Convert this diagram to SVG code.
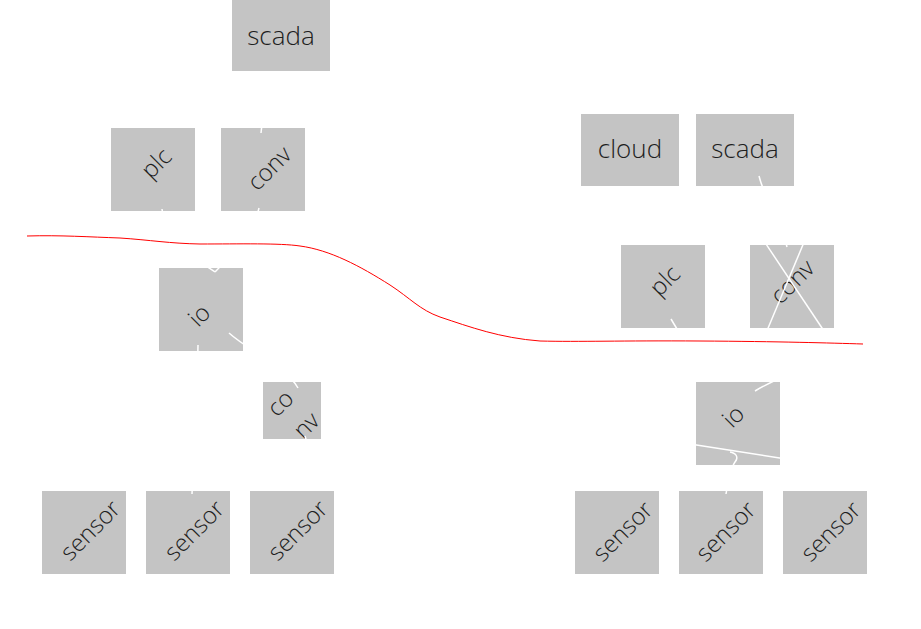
<svg xmlns="http://www.w3.org/2000/svg" width="921" height="629" viewBox="0 0 921 629">
<style>
.box{fill:#c4c4c4}
.t{font-family:"Open Sans","Liberation Sans",sans-serif;font-weight:300;font-size:24px;fill:#1e1e1e;text-anchor:middle}
.h{font-size:26px}
.c{fill:none;stroke:#fff;stroke-width:1.5}
.red{fill:none;stroke:#ff0000;stroke-width:1}
</style>
<rect width="921" height="629" fill="#fff"/>
<g id="nodes">
<g id="scada1"><rect class="box" x="232" y="0" width="98" height="71"/><text class="t h" x="281" y="45">scada</text></g>
<g id="plc1"><rect class="box" x="111" y="128" width="84" height="83"/><text class="t" transform="translate(157,164) rotate(-45)" dy="0.3em">plc</text></g>
<g id="conv1"><rect class="box" x="221" y="128" width="84" height="83"/><text class="t" transform="translate(270,169) rotate(-45)" dy="0.3em">conv</text></g>
<g id="io1"><rect class="box" x="159" y="268" width="84" height="83"/><text class="t" transform="translate(200,316) rotate(-45)" dy="0.3em">io</text></g>
<g id="conv2"><rect class="box" x="263" y="382" width="58" height="57"/><text class="t" transform="translate(281,404) rotate(-45)" dy="0.3em">co</text><text class="t" transform="translate(307,426) rotate(-45)" dy="0.3em">nv</text></g>
<g id="sensor1"><rect class="box" x="42" y="491" width="84" height="83"/><text class="t" transform="translate(91,531) rotate(-45)" dy="0.3em">sensor</text></g>
<g id="sensor2"><rect class="box" x="146" y="491" width="84" height="83"/><text class="t" transform="translate(195,531) rotate(-45)" dy="0.3em">sensor</text></g>
<g id="sensor3"><rect class="box" x="250" y="491" width="84" height="83"/><text class="t" transform="translate(298.5,531) rotate(-45)" dy="0.3em">sensor</text></g>
<g id="cloud"><rect class="box" x="581" y="114" width="98" height="72"/><text class="t h" x="630" y="158">cloud</text></g>
<g id="scada2"><rect class="box" x="696" y="114" width="98" height="72"/><text class="t h" x="745" y="158">scada</text></g>
<g id="plc2"><rect class="box" x="621" y="245" width="84" height="83"/><text class="t" transform="translate(665.5,281.5) rotate(-45)" dy="0.3em">plc</text></g>
<g id="conv3"><rect class="box" x="750" y="245" width="84" height="83"/><text class="t" transform="translate(793,282.5) rotate(-45)" dy="0.3em">conv</text></g>
<g id="io2"><rect class="box" x="696" y="382" width="84" height="83"/><text class="t" transform="translate(734,417) rotate(-45)" dy="0.3em">io</text></g>
<g id="sensor4"><rect class="box" x="575" y="491" width="84" height="83"/><text class="t" transform="translate(623.5,532) rotate(-45)" dy="0.3em">sensor</text></g>
<g id="sensor5"><rect class="box" x="679" y="491" width="84" height="83"/><text class="t" transform="translate(726.5,532) rotate(-45)" dy="0.3em">sensor</text></g>
<g id="sensor6"><rect class="box" x="783" y="491" width="84" height="83"/><text class="t" transform="translate(831.5,532) rotate(-45)" dy="0.3em">sensor</text></g>
</g>
<g id="connectors">
<path class="c" d="M281,72 C275,95 262,110 261,133"/>
<path class="c" d="M162,209 C165,240 200,262 215,272"/>
<path class="c" d="M259,208 C255,230 232,255 215,272"/>
<path class="c" d="M198,345 C197,400 194,450 192,494"/>
<path class="c" d="M229,333 C250,352 285,365 298,388"/>
<path class="c" d="M305,436 C306,440 308,445 310,450"/>
<path class="c" d="M759,176 C765,200 782,225 787,247"/>
<path class="c" d="M740,205 L826,334"/>
<path class="c" d="M815,216 L766,333"/>
<path class="c" d="M785,376 C778,379 765,385 755,391"/>
<path class="c" d="M690,444 L786,459"/>
<path class="c" d="M730,452 C736,453 739,457 735,462 C732,466 728,480 726,494"/>
<path class="c" d="M671,319 L677,329"/>
</g>
<path id="boundary" class="red" d="M27,236 C60,235 90,237 120,238 C150,240 170,243.5 200,244 C240,244 280,243 300,246 C330,250 360,266 390,285 C410,298 420,310 440,317 C470,327 500,338 540,341 C580,342 620,340.5 700,341 C780,341.5 830,343 863,344"/>
</svg>
